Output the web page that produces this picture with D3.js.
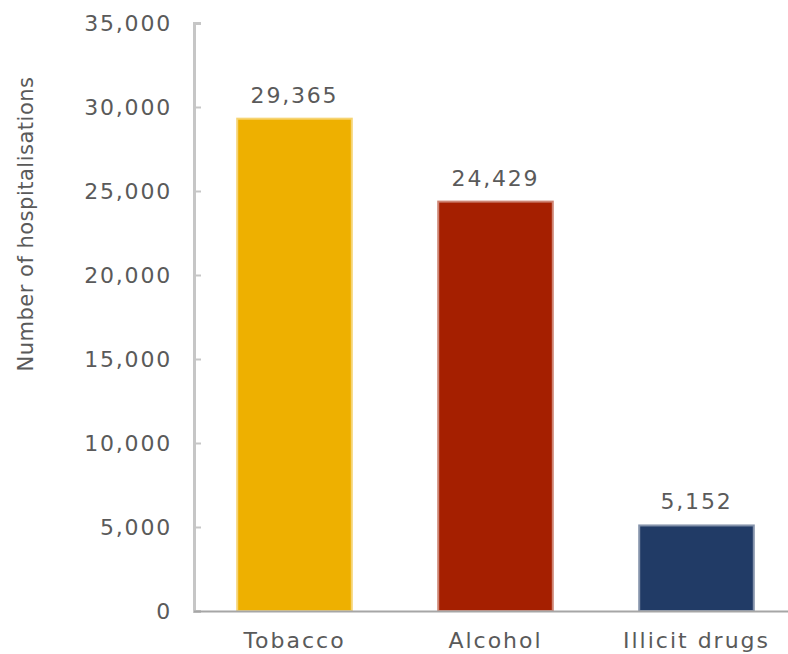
<!DOCTYPE html>
<html><head><meta charset="utf-8">
<script src="https://cdn.jsdelivr.net/npm/d3@7"></script>
<style>body{margin:0;background:#fff}svg{display:block}text{font-family:"DejaVu Sans",Verdana,sans-serif;fill:#5a5a5a}</style>
</head><body><svg id="c" width="788" height="654"></svg>
<script>
const categories = ["Tobacco", "Alcohol", "Illicit drugs"];
const values = [29365, 24429, 5152];
const colors = ["#EEB000", "#A51F00", "#213B66"];
const yTicks = [0, 5000, 10000, 15000, 20000, 25000, 30000, 35000];
const yTitle = "Number of hospitalisations";

const svg = d3.select("#c");
const x0 = 194, yBottom = 611, yTop = 23;
const x = d3.scaleBand().domain(categories).range([x0, 797]).paddingInner(0.42).paddingOuter(0.21);
const y = d3.scaleLinear().domain([0, 35000]).range([yBottom, yTop]);
const fmt = d3.format(",");

// y axis
const ya = svg.append("g").attr("transform", `translate(${x0},0)`)
  .call(d3.axisRight(y).tickValues(yTicks).tickSize(7).tickFormat(""));
ya.select(".domain").attr("stroke", "#c6c6c6").attr("stroke-width", 3);
ya.selectAll(".tick line").attr("stroke", "#c6c6c6").attr("stroke-width", 2);
svg.append("g").selectAll("text").data(yTicks).join("text")
  .attr("x", 172).attr("y", d => y(d)).attr("dy", "0.36em")
  .attr("text-anchor", "end").attr("font-size", 22).attr("letter-spacing", 1.8)
  .text(d => fmt(d));

// bars
svg.append("g").selectAll("rect").data(values).join("rect")
  .attr("x", (d, i) => x(categories[i]) + 1).attr("width", x.bandwidth() - 2)
  .attr("y", d => y(d) + 1).attr("height", d => yBottom - y(d) - 1)
  .attr("fill", (d, i) => colors[i])
  .attr("stroke", (d, i) => d3.interpolateRgb(colors[i], "#fff")(0.45))
  .attr("stroke-width", 2);

// x axis
const xa = svg.append("g").attr("transform", `translate(0,${yBottom})`)
  .call(d3.axisBottom(x).tickSize(0).tickPadding(0));
xa.select(".domain").attr("d", `M${x0},0.5H788`).attr("stroke", "#a6a6a6").attr("stroke-width", 2);
xa.selectAll(".tick text").attr("y", 37).attr("dy", 0).attr("font-size", 22)
  .attr("letter-spacing", 2)
  .attr("font-family", '"DejaVu Sans",Verdana,sans-serif').attr("fill", "#5a5a5a");

// value labels
svg.append("g").selectAll("text").data(values).join("text")
  .attr("x", (d, i) => x(categories[i]) + x.bandwidth() / 2)
  .attr("y", d => y(d) - 15).attr("text-anchor", "middle").attr("font-size", 22)
  .attr("letter-spacing", 1.8)
  .text(d => fmt(d));

// y title
svg.append("text").attr("transform", "translate(33,224) rotate(-90)")
  .attr("text-anchor", "middle").attr("font-size", 21).attr("letter-spacing", 0.5)
  .text(yTitle);
</script></body></html>
